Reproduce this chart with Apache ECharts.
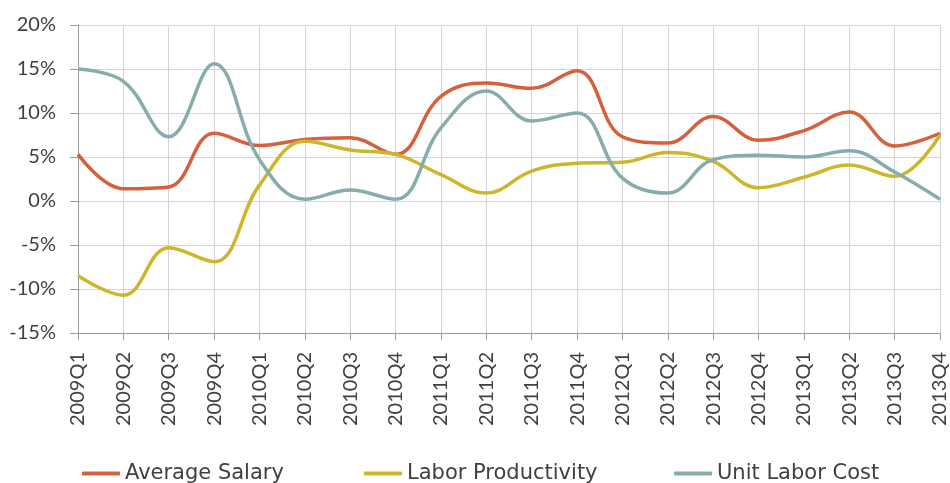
<!DOCTYPE html>
<html>
<head>
<meta charset="utf-8">
<script src="https://cdn.jsdelivr.net/npm/echarts@6/dist/echarts.min.js"></script>
<style>
  html, body { margin: 0; padding: 0; background: #ffffff; }
  #chart { width: 950px; height: 483px; }
</style>
</head>
<body>
<div id="chart"></div>
<script>
// Quarterly categories
const quarters = [
  '2009Q1', '2009Q2', '2009Q3', '2009Q4',
  '2010Q1', '2010Q2', '2010Q3', '2010Q4',
  '2011Q1', '2011Q2', '2011Q3', '2011Q4',
  '2012Q1', '2012Q2', '2012Q3', '2012Q4',
  '2013Q1', '2013Q2', '2013Q3', '2013Q4'
];

// Year-over-year change, percent
const averageSalary = [
  5.3, 1.4, 1.6, 7.7,
  6.3, 7.0, 7.2, 5.3,
  11.9, 13.4, 12.8, 14.8,
  7.3, 6.6, 9.6, 6.9,
  8.0, 10.1, 6.25, 7.7
];
const laborProductivity = [
  -8.5, -10.7, -5.3, -6.9,
  1.8, 6.8, 5.8, 5.3,
  3.0, 0.9, 3.4, 4.3,
  4.4, 5.5, 4.5, 1.5,
  2.7, 4.1, 2.8, 7.5
];
const unitLaborCost = [
  15.0, 13.6, 7.3, 15.6,
  4.7, 0.2, 1.25, 0.2,
  8.3, 12.5, 9.1, 10.0,
  2.6, 0.9, 4.7, 5.2,
  5.0, 5.7, 3.3, 0.2
];

const seriesNames = ['Average Salary', 'Labor Productivity', 'Unit Labor Cost'];
const seriesColors = ['#d6603e', '#cdb62b', '#86adab'];
// left edge of each legend entry
const legendLefts = [82, 364, 674];

const AXIS_FONT = 'Lato';
const LEGEND_FONT = 'DejaVu Sans';
const TEXT = '#404040';

function lineSeries(name, data, color) {
  return {
    name: name,
    type: 'line',
    data: data,
    smooth: 0.4,
    symbol: 'none',
    lineStyle: { color: color, width: 3.5 },
    itemStyle: { color: color }
  };
}

function render() {
  const chart = echarts.init(document.getElementById('chart'), null, { renderer: 'canvas' });
  chart.setOption({
    animation: false,
    backgroundColor: '#ffffff',
    grid: { left: 78, right: 7, top: 25, bottom: 150, containLabel: false },
    legend: seriesNames.map((name, i) => ({
      left: legendLefts[i],
      top: 463,
      padding: 0,
      itemWidth: 38,
      itemHeight: 4,
      icon: 'roundRect',
      textStyle: { fontFamily: LEGEND_FONT, fontSize: 21, color: TEXT },
      data: [name]
    })),
    xAxis: {
      type: 'category',
      data: quarters,
      boundaryGap: false,
      axisLine: { onZero: false, lineStyle: { color: '#9a9a9a', width: 1 } },
      axisTick: { show: true, length: 7, lineStyle: { color: '#9a9a9a' } },
      axisLabel: {
        rotate: 90,
        margin: 19,
        interval: 0,
        fontFamily: AXIS_FONT,
        fontSize: 20,
        color: TEXT
      },
      splitLine: { show: true, lineStyle: { color: '#d4d4d4', width: 1 } }
    },
    yAxis: {
      type: 'value',
      min: -15,
      max: 20,
      interval: 5,
      axisLine: { show: true, lineStyle: { color: '#9a9a9a', width: 1 } },
      axisTick: { show: true, length: 8, lineStyle: { color: '#9a9a9a' } },
      axisLabel: {
        margin: 22,
        fontFamily: AXIS_FONT,
        fontSize: 20,
        color: TEXT,
        formatter: v => v + '%'
      },
      splitLine: { show: true, lineStyle: { color: '#d4d4d4', width: 1 } }
    },
    series: [
      lineSeries(seriesNames[0], averageSalary, seriesColors[0]),
      lineSeries(seriesNames[1], laborProductivity, seriesColors[1]),
      lineSeries(seriesNames[2], unitLaborCost, seriesColors[2])
    ]
  });
}

// make sure the installed faces are ready before the canvas measures text
Promise.all([
  document.fonts.load('20px "' + AXIS_FONT + '"'),
  document.fonts.load('21px "' + LEGEND_FONT + '"')
]).then(render, render);
</script>
</body>
</html>
